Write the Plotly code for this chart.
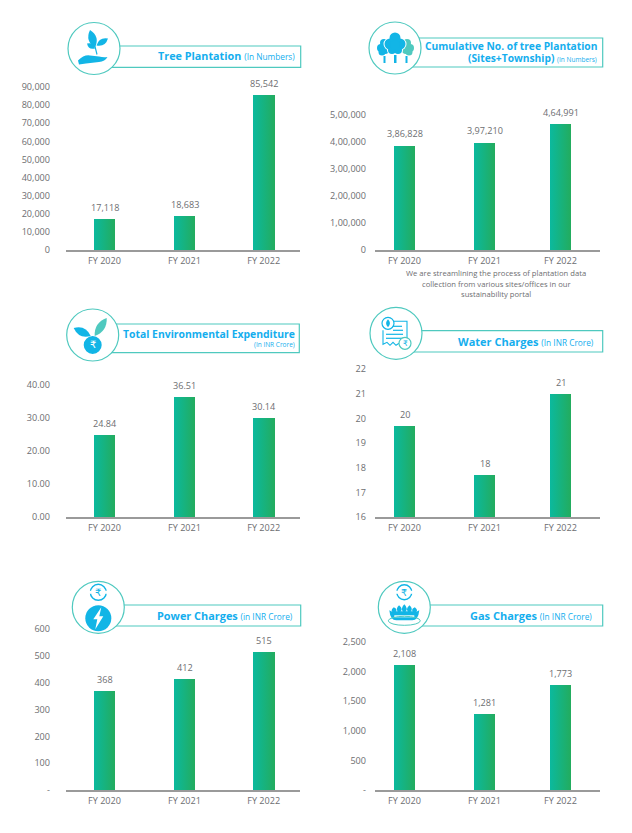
import plotly.graph_objects as go

W, H = 632, 833
FONT = "Open Sans"
GREY = "#6d6e71"
CYAN = "#14AEEE"
ICON = "#12B5E6"
TEAL = "#4FC9BF"

categories = ["FY 2020", "FY 2021", "FY 2022"]

tree_values = [17118, 18683, 85542]
tree_labels = ["17,118", "18,683", "85,542"]
tree_ticks = [0, 10000, 20000, 30000, 40000, 50000, 60000, 70000, 80000, 90000]
tree_ticktext = ["0", "10,000", "20,000", "30,000", "40,000", "50,000", "60,000", "70,000", "80,000", "90,000"]

cumulative_values = [386828, 397210, 464991]
cumulative_labels = ["3,86,828", "3,97,210", "4,64,991"]
cumulative_ticks = [0, 100000, 200000, 300000, 400000, 500000]
cumulative_ticktext = ["0", "1,00,000", "2,00,000", "3,00,000", "4,00,000", "5,00,000"]

expenditure_values = [24.84, 36.51, 30.14]
expenditure_labels = ["24.84", "36.51", "30.14"]
expenditure_ticks = [0, 10, 20, 30, 40]
expenditure_ticktext = ["0.00", "10.00", "20.00", "30.00", "40.00"]

water_values = [19.7, 17.7, 21.0]
water_labels = ["20", "18", "21"]
water_ticks = [16, 17, 18, 19, 20, 21, 22]
water_ticktext = ["16", "17", "18", "19", "20", "21", "22"]

power_values = [368, 412, 515]
power_labels = ["368", "412", "515"]
power_ticks = [0, 100, 200, 300, 400, 500, 600]
power_ticktext = ["-", "100", "200", "300", "400", "500", "600"]

gas_values = [2108, 1281, 1773]
gas_labels = ["2,108", "1,281", "1,773"]
gas_ticks = [0, 500, 1000, 1500, 2000, 2500]
gas_ticktext = ["-", "500", "1,000", "1,500", "2,000", "2,500"]

# layout geometry (pixels)
LEFT_SLOTS = [0, 1, 1.99]
RIGHT_SLOTS = [0, 1, 1.95]
LEFT_GEOM = dict(x0=66, x1=300, first=104.5, step=80, slots=LEFT_SLOTS, standoff=15)
RIGHT_GEOM = dict(x0=375, x1=600, first=404.5, step=80, slots=RIGHT_SLOTS, standoff=8)

panels = [
    dict(g=LEFT_GEOM, v=tree_values, l=tree_labels, t=tree_ticks, tt=tree_ticktext, ytop=87, ybot=250, r=(0, 90000)),
    dict(g=RIGHT_GEOM, v=cumulative_values, l=cumulative_labels, t=cumulative_ticks, tt=cumulative_ticktext, ytop=114.5, ybot=250, r=(0, 500000)),
    dict(g=LEFT_GEOM, v=expenditure_values, l=expenditure_labels, t=expenditure_ticks, tt=expenditure_ticktext, ytop=385, ybot=517, r=(0, 40)),
    dict(g=RIGHT_GEOM, v=water_values, l=water_labels, t=water_ticks, tt=water_ticktext, ytop=369, ybot=517, r=(16, 22)),
    dict(g=LEFT_GEOM, v=power_values, l=power_labels, t=power_ticks, tt=power_ticktext, ytop=629, ybot=790, r=(0, 600)),
    dict(g=RIGHT_GEOM, v=gas_values, l=gas_labels, t=gas_ticks, tt=gas_ticktext, ytop=642, ybot=790, r=(0, 2500)),
]

fig = go.Figure()
annotations = []
shapes = []
layout_axes = {}


def px(x):
    return x / W


def py(y):
    return 1 - y / H


for i, p in enumerate(panels, start=1):
    g = p["g"]
    xa, ya = f"x{i}", f"y{i}"
    fig.add_trace(go.Bar(
        x=g["slots"], y=p["v"], xaxis=xa, yaxis=ya, width=0.27,
        marker=dict(color="#17B27C", line=dict(width=0)),
        hoverinfo="skip", showlegend=False,
    ))
    layout_axes[f"xaxis{i}"] = dict(
        domain=[px(g["x0"]), px(g["x1"])], automargin=False,
        range=[(g["x0"] - g["first"]) / g["step"], (g["x1"] - g["first"]) / g["step"]],
        anchor=ya, tickmode="array", tickvals=g["slots"], ticktext=categories,
        showgrid=False, zeroline=False, showline=True, linecolor="#9a9a9a", linewidth=1.5,
        ticks="", tickfont=dict(family=FONT, size=9.1, color=GREY), ticklabelstandoff=1,
        fixedrange=True,
    )
    layout_axes[f"yaxis{i}"] = dict(
        domain=[py(p["ybot"]), py(p["ytop"])], automargin=False,
        range=list(p["r"]), anchor=xa, tickmode="array", tickvals=p["t"], ticktext=p["tt"],
        showgrid=False, zeroline=False, showline=False, ticks="",
        tickfont=dict(family=FONT, size=9.1, color=GREY), ticklabelstandoff=g["standoff"],
        fixedrange=True,
    )
    for sx, val, lab in zip(g["slots"], p["v"], p["l"]):
        annotations.append(dict(
            x=sx, y=val, xref=xa, yref=ya, text=lab, showarrow=False, xanchor="center", yanchor="bottom",
            yshift=4, font=dict(family=FONT, size=9.1, color=GREY), borderpad=0,
        ))


def add_path(d, fill=ICON, line=None, lw=1):
    shapes.append(dict(type="path", xref="paper", yref="paper", path=d, fillcolor=fill,
                       line=dict(color=line or "rgba(0,0,0,0)", width=lw if line else 0), layer="above"))


def P(cx, cy, pts):
    """pts: list of commands such as ('M',x,y), ('Q',a,b,c,d), ('L',x,y), ('Z',)."""
    out = []
    for c in pts:
        vals = c[1:]
        coords = []
        for j in range(0, len(vals), 2):
            coords.append(f"{px(cx + vals[j]):.5f},{py(cy + vals[j + 1]):.5f}")
        out.append(c[0] + " ".join(coords))
    return " ".join(out)


def circle(cx, cy, r, fill=ICON, line=None, lw=1):
    shapes.append(dict(type="circle", xref="paper", yref="paper",
                       x0=px(cx - r), x1=px(cx + r), y0=py(cy - r), y1=py(cy + r),
                       fillcolor=fill, line=dict(color=line or "rgba(0,0,0,0)", width=lw if line else 0), layer="above"))


def rect(x0, y0, x1, y1, fill="rgba(0,0,0,0)", line=None, lw=1):
    shapes.append(dict(type="rect", xref="paper", yref="paper",
                       x0=px(x0), x1=px(x1), y0=py(y0), y1=py(y1),
                       fillcolor=fill, line=dict(color=line or "rgba(0,0,0,0)", width=lw if line else 0), layer="above"))


def leaf(cx, cy, x0, y0, x1, y1, w, fill=ICON):
    mx, my = (x0 + x1) / 2, (y0 + y1) / 2
    dx, dy = x1 - x0, y1 - y0
    n = (dx * dx + dy * dy) ** 0.5
    ox, oy = -dy / n * w, dx / n * w
    add_path(P(cx, cy, [("M", x0, y0), ("Q", mx + ox, my + oy, x1, y1), ("Q", mx - ox, my - oy, x0, y0), ("Z",)]), fill)


def line_seg(cx, cy, x0, y0, x1, y1, color=ICON, lw=1.2):
    shapes.append(dict(type="line", xref="paper", yref="paper",
                       x0=px(cx + x0), x1=px(cx + x1), y0=py(cy + y0), y1=py(cy + y1),
                       line=dict(color=color, width=lw), layer="above"))


def header(cx, cy, box_top, box_bot, box_right):
    rect(cx, box_top, box_right, box_bot, "white", TEAL, 1.2)
    circle(cx, cy, 26, "white", TEAL, 1.2)


def rupee(x, y, size, color):
    annotations.append(dict(x=px(x), y=py(y), xref="paper", yref="paper", text="₹", showarrow=False,
                            xanchor="center", yanchor="middle",
                            font=dict(family="DejaVu Sans", size=size, color=color), borderpad=0))


def title(x, y, text, size=11):
    annotations.append(dict(x=px(x), y=py(y), xref="paper", yref="paper", text=text, showarrow=False,
                            xanchor="right", yanchor="middle", align="right", borderpad=0,
                            font=dict(family=FONT, size=size, color=CYAN)))


def small(t, s=8.3):
    return f'<span style="font-size:{s}px">{t}</span>'


# Panel 1 header
cx, cy = 94, 48.5
header(cx, cy, 46, 67.3, 300.7)
leaf(cx, cy, 1, -1, -4, -18.5, 8, ICON)
leaf(cx, cy, 1, 0, -7, -5, 5, ICON)
leaf(cx, cy, 2.5, -3, 14, -10, 6, ICON)
line_seg(cx, cy, 1, -2, 3, 6, ICON, 1.2)
add_path(P(cx, cy, [("M", -16, 12), ("Q", -10, 6, -4, 7), ("L", 5, 8), ("Q", 9, 9, 13.5, 8.5),
                    ("Q", 11, 13, 5, 13.5), ("L", -8, 15), ("L", -15, 16), ("Z",)]), ICON)
title(296, 56, "<b>Tree Plantation</b> " + small("(In Numbers)"), 10.8)

# Panel 2 header
cx, cy = 395, 48
header(cx, cy, 38, 67, 602.7)
for sgn, col in ((-1, ICON), (1, TEAL)):
    for dx, dy, r in [(11, -5, 4), (14, 0, 4), (10, 2, 4), (13, 4, 3.5)]:
        circle(cx + sgn * dx + (1 if sgn > 0 else 0), cy + dy, r, col)
center_tree = [(0, -10, 5.5), (-5, -4, 5.5), (5, -4, 5.5), (-3, 2, 4), (3, 2, 4), (0, -3, 5)]
for dx, dy, r in center_tree:
    circle(cx + dx, cy + dy, r + 1, "white")
for dx, dy, r in center_tree:
    circle(cx + dx, cy + dy, r, ICON)
rect(cx - 11.5, cy + 8, cx - 9.5, cy + 15, ICON)
rect(cx - 1, cy + 7, cx + 1.5, cy + 15, ICON)
rect(cx + 10.5, cy + 8, cx + 12.5, cy + 15, ICON)
title(598, 46, "<b>Cumulative No. of tree Plantation</b>", 10.25)
title(598, 58, "<b>(Sites+Township)</b> " + small("(In Numbers)", 6.5), 10.25)

# Panel 3 header
cx, cy = 92.7, 335
header(cx, cy, 324, 352.7, 299.3)
circle(cx, cy + 10, 9, ICON)
rupee(cx, cy + 10, 10, "white")
leaf(cx, cy, -2, 1, -19, -7, 8, ICON)
leaf(cx, cy, 2, 1, 14, -17, 8, TEAL)
title(296, 334, "<b>Total Environmental Expenditure</b>", 10.4)
title(296, 344.7, small("(In INR Crore)", 6.5))

# Panel 4 header
cx, cy = 396, 333.3
header(cx, cy, 330.7, 352, 602.7)
add_path(P(cx, cy, [("M", -6, -12), ("L", 11, -12), ("L", 11, 10)]), "rgba(0,0,0,0)", ICON, 1.1)
add_path(P(cx, cy, [("M", -13, -3), ("L", -13, 11), ("L", -9, 9), ("L", -6, 12), ("L", -3, 9), ("L", 0, 12), ("L", 3, 10)]),
         "rgba(0,0,0,0)", ICON, 1.1)
line_seg(cx, cy, -4, -7, 6, -7)
line_seg(cx, cy, -3, -3, 7, -3)
line_seg(cx, cy, -10, 1, 7, 1)
line_seg(cx, cy, -10, 5, 7, 5)
circle(cx - 8, cy - 10, 6, "white", ICON, 1.2)
leaf(cx, cy, -8, -14, -8, -6, 4, ICON)
circle(cx + 9, cy + 10, 6, "white", TEAL, 1.2)
rupee(cx + 9, cy + 10, 7.5, ICON)
title(595, 341, "<b>Water Charges</b> " + small("(In INR Crore)"))

# Panel 5 header
cx, cy = 98.3, 607.3
header(cx, cy, 605, 626, 300.7)
circle(cx, cy - 15, 8, "white", ICON, 1.4)
rect(cx - 9.5, cy - 16.5, cx - 6.5, cy - 13.5, "white")
rect(cx + 6.5, cy - 16.5, cx + 9.5, cy - 13.5, "white")
rupee(cx, cy - 15, 10, ICON)
circle(cx, cy + 11, 13, ICON)
add_path(P(cx, cy, [("M", 3, 0), ("L", -5, 12), ("L", -1, 12), ("L", -3, 22), ("L", 5, 9), ("L", 1, 9), ("Z",)]), "white")
title(294, 615.7, "<b>Power Charges</b> " + small("(in INR Crore)"), 10.9)

# Panel 6 header
cx, cy = 404.3, 607.3
header(cx, cy, 605, 626, 602.7)
circle(cx, cy - 15, 7.5, "white", ICON, 1.4)
rect(cx - 9, cy - 16.5, cx - 6, cy - 13.5, "white")
rect(cx + 6, cy - 16.5, cx + 9, cy - 13.5, "white")
rupee(cx, cy - 15, 9.5, ICON)
add_path(P(cx, cy, [("M", -15, 3), ("Q", -12, 5, -10, 4), ("L", 10, 4), ("Q", 12, 5, 15, 3),
                    ("Q", 14, 13, 8, 13), ("L", -8, 13), ("Q", -14, 13, -15, 3), ("Z",)]), ICON)
for dx, dy in ((-10, 0), (-5, -2), (0, -3), (5, -2), (10, 0)):
    leaf(cx, cy, dx, 6, dx * 1.05, dy, 5, ICON)
rect(cx - 10, cy + 8, cx + 10, cy + 10, "white")
shapes.append(dict(type="circle", xref="paper", yref="paper", x0=px(cx - 16), x1=px(cx + 16),
                   y0=py(cy + 9), y1=py(cy + 18), fillcolor="rgba(0,0,0,0)",
                   line=dict(color=TEAL, width=1), layer="above"))
title(593, 615.7, "<b>Gas Charges</b> " + small("(In INR Crore)"))

# Note under panel 2
note_lines = ["We are streamlining the process of plantation data",
              "collection from various sites/offices in our",
              "sustainability portal"]
for txt, y in zip(note_lines, [273, 283.6, 294.2]):
    annotations.append(dict(x=px(496), y=py(y), xref="paper", yref="paper", text=txt, showarrow=False,
                            xanchor="center", yanchor="middle",
                            font=dict(family=FONT, size=7.65, color=GREY), borderpad=0))

fig.update_layout(
    template="none",
    width=W, height=H, margin=dict(l=0, r=0, t=0, b=0, pad=0), autosize=False,
    paper_bgcolor="white", plot_bgcolor="white", showlegend=False, bargap=0,
    font=dict(family=FONT, color=GREY), annotations=annotations, shapes=shapes, **layout_axes,
)

post = """
document.body.style.margin = '0';
document.documentElement.style.overflow = 'hidden';
var gd = document.getElementsByClassName('plotly-graph-div')[0];
function grad() {
  var svg = gd.querySelector('svg.main-svg');
  var ns = 'http://www.w3.org/2000/svg';
  if (!document.getElementById('barGrad')) {
    var defs = document.createElementNS(ns, 'defs');
    var lg = document.createElementNS(ns, 'linearGradient');
    lg.setAttribute('id', 'barGrad');
    [['0%', '#0BB99E'], ['100%', '#23AC5E']].forEach(function (s) {
      var st = document.createElementNS(ns, 'stop');
      st.setAttribute('offset', s[0]); st.setAttribute('stop-color', s[1]); lg.appendChild(st);
    });
    defs.appendChild(lg); svg.insertBefore(defs, svg.firstChild);
  }
  gd.querySelectorAll('.bars .point path').forEach(function (p) {
    p.style.setProperty('fill', 'url(#barGrad)');
  });
}
grad();
"""
fig.write_html("out.html", post_script=post, config={"displayModeBar": False})
